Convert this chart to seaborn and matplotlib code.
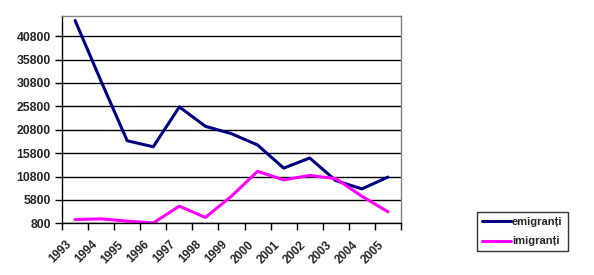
import matplotlib
matplotlib.use("Agg")
import matplotlib.pyplot as plt
import seaborn as sns
import pandas as pd
import numpy as np

years = ["1993", "1994", "1995", "1996", "1997", "1998", "1999",
         "2000", "2001", "2002", "2003", "2004", "2005"]
emigranti = [44160, 31152, 18446, 17146, 25675, 21526, 19945,
             17536, 12594, 14753, 9921, 8154, 10673]
imigranti = [1602, 1753, 1269, 878, 4458, 2053, 6600,
             11907, 10078, 11024, 10350, 6582, 3267]
yticks = [800, 5800, 10800, 15800, 20800, 25800, 30800, 35800, 40800]

sns.set_theme(style="white")
plt.rcParams['font.family'] = ['Liberation Sans', 'DejaVu Sans']

df = pd.DataFrame({
    "idx": list(range(len(years))) * 2,
    "value": emigranti + imigranti,
    "series": ["emigranți"] * len(years) + ["imigranți"] * len(years),
})

fig = plt.figure(figsize=(5.94, 2.75), dpi=100)
ax = fig.add_axes([62 / 594, 1 - 223.3 / 275, (401 - 62) / 594, (223.3 - 16) / 275])

sns.lineplot(data=df, x="idx", y="value", hue="series",
             palette={"emigranți": "#000080", "imigranți": "#FF00FF"},
             linewidth=2.2, ax=ax, legend=False)

ax.set_xlim(-0.5, len(years) - 0.5)
ax.set_ylim(800, 45100)
ax.set_yticks(yticks)
ax.set_yticklabels([str(v) for v in yticks], fontsize=8.8, fontweight="bold")
ax.yaxis.grid(True, color="black", linewidth=1.0)
ax.set_axisbelow(True)

# category boundary tick marks (major), labels on minor ticks shifted left
ax.set_xticks(np.arange(-0.5, len(years), 1.0))
ax.set_xticklabels([])
ax.set_xticks(np.arange(len(years)) - 0.38, minor=True)
ax.set_xticklabels(years, minor=True, rotation=45, ha="right", va="top",
                   rotation_mode="anchor", fontsize=8.5, fontweight="bold")
ax.tick_params(axis="x", which="major", direction="out", length=5, width=1, color="black", bottom=True)
ax.tick_params(axis="x", which="minor", length=0, pad=11)
ax.tick_params(axis="y", direction="out", length=5, width=1, color="black", left=True, pad=3)

ax.set_xlabel("")
ax.set_ylabel("")
for s in ["left", "bottom"]:
    ax.spines[s].set_color("black")
    ax.spines[s].set_linewidth(1.0)
for s in ["top", "right"]:
    ax.spines[s].set_color("#808080")
    ax.spines[s].set_linewidth(1.0)

from matplotlib.lines import Line2D
handles = [Line2D([0], [0], color="#000080", lw=2.2),
           Line2D([0], [0], color="#FF00FF", lw=2.2)]
leg = fig.legend(handles, ["emigranți", "imigranți"],
                 loc="upper left", bbox_to_anchor=(477 / 594, 1 - 212 / 275),
                 frameon=True, fancybox=False, edgecolor="black",
                 prop={"size": 8, "weight": "bold"},
                 handlelength=2.6, handletextpad=0.1, borderpad=0.45,
                 labelspacing=0.85, borderaxespad=0)
leg.get_frame().set_linewidth(1.0)

fig.savefig("out.png", dpi=100)
